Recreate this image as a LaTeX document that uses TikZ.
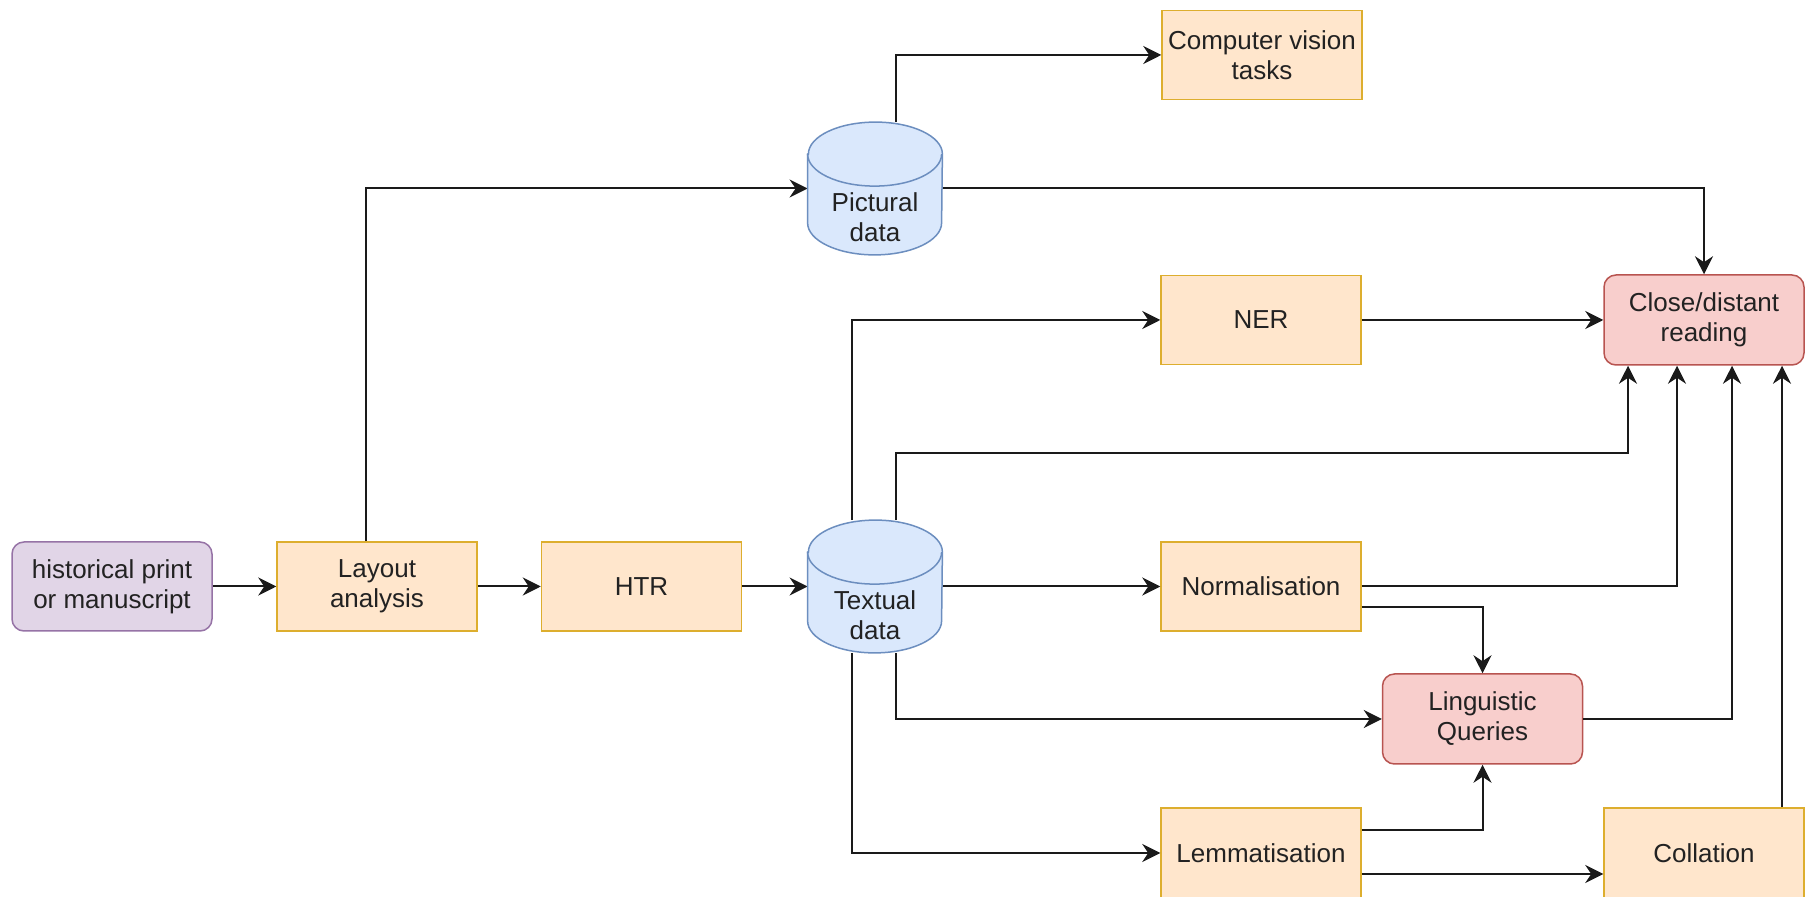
\documentclass[tikz,border=0pt]{standalone}
\usepackage{fontspec}
\setmainfont{Liberation Sans}
\usetikzlibrary{arrows.meta}
\definecolor{purF}{HTML}{E1D5E7}
\definecolor{purD}{HTML}{9673A6}
\definecolor{orF}{HTML}{FFE6CC}
\definecolor{orD}{HTML}{DDAE2E}
\definecolor{blF}{HTML}{DAE8FC}
\definecolor{blD}{HTML}{6C8EBF}
\definecolor{rdF}{HTML}{F8CECC}
\definecolor{rdD}{HTML}{B85450}
\definecolor{lnC}{HTML}{1A1A1A}
\definecolor{txC}{HTML}{222222}
\tikzset{
  base/.style={minimum width=100pt, minimum height=44.5pt, inner sep=0pt, align=center,
    line width=0.75pt, text=txC, font=\fontsize{13}{15}\selectfont},
  purbox/.style={base, draw=purD, fill=purF, rounded corners=6pt},
  orbox/.style={base, draw=orD, fill=orF},
  rdbox/.style={base, draw=rdD, fill=rdF, rounded corners=6pt},
  cylnode/.style={minimum width=67pt, minimum height=66pt, inner sep=0pt},
  cyltext/.style={align=center, inner sep=0pt, text=txC, font=\fontsize{13}{15}\selectfont},
  cylshape/.style={draw=blD, fill=blF, line width=0.75pt},
  arr/.style={draw=lnC, line width=1pt, -{Stealth[length=9pt,width=9pt,inset=3pt]}},
}
\newcommand{\drawcyl}[1]{%
  \draw[cylshape] ([yshift=-16pt]#1.north west) -- ([yshift=16pt]#1.south west)
    arc[start angle=180,end angle=360,x radius=33.5pt,y radius=16pt]
    -- ([yshift=-16pt]#1.north east)
    arc[start angle=0,end angle=180,x radius=33.5pt,y radius=16pt] -- cycle;
  \draw[cylshape, fill=none] ([yshift=-16pt]#1.north west)
    arc[start angle=180,end angle=360,x radius=33.5pt,y radius=16pt];
}
\begin{document}
\begin{tikzpicture}[x=0.5pt,y=-0.5pt]
\useasboundingbox (0,0) rectangle (1806,897);
\fill[white] (0,0) rectangle (1806,897);

% nodes
\node[purbox] (hist) at (112,586.5) {historical print\\or manuscript};
\node[orbox] (layout) at (377,586.5) {Layout\\analysis};
\node[orbox] (htr) at (641.5,586.5) {HTR};
\node[cylnode] (pict) at (875,188.5) {};
\node[cylnode] (text) at (875,586.5) {};
\node[orbox] (cv) at (1262,55) {Computer vision\\tasks};
\node[orbox] (ner) at (1261,320) {NER};
\node[orbox] (norm) at (1261,586.5) {Normalisation};
\node[orbox, minimum height=45pt] (lem) at (1261,853) {Lemmatisation};
\node[orbox, minimum height=45pt] (coll) at (1704,853) {Collation};
\node[rdbox, minimum height=45pt] (lq) at (1482.5,719) {Linguistic\\Queries};
\node[rdbox, minimum height=45pt] (close) at (1704,320) {Close/distant\\reading};

\coordinate (c1) at (1628,453);

% connectors
\draw[arr] (hist.east) -- (layout.west);
\draw[arr] (layout.east) -- (htr.west);
\draw[arr] (htr.east) -- (text.west);
\draw[arr] ([xshift=-5.5pt]layout.north) |- (pict.west);
\draw[arr] ([xshift=10.5pt]pict.north) |- (cv.west);
\draw[arr] (pict.east) -| (close.north);
\draw[arr] ([xshift=-11.5pt]text.north) |- (ner.west);
\draw[arr] ([xshift=10.5pt]text.north) |- (c1) -- (c1 |- close.south);
\draw[arr] (ner.east) -- (close.west);
\draw[arr] (text.east) -- (norm.west);
\draw[arr] (norm.east) -| ([xshift=-13.5pt]close.south);
\draw[arr] ([yshift=-10.5pt]norm.east) -| (lq.north);
\draw[arr] ([xshift=10.5pt]text.south) |- (lq.west);
\draw[arr] ([xshift=-11.5pt]text.south) |- (lem.west);
\draw[arr] ([yshift=11.5pt]lem.east) -| (lq.south);
\draw[arr] ([yshift=-10.5pt]lem.east) -- ([yshift=-10.5pt]coll.west);
\draw[arr] (lq.east) -| ([xshift=14pt]close.south);
\draw[arr] ([xshift=39pt]coll.north) -- ([xshift=39pt]close.south);

% cylinders on top
\drawcyl{pict}
\drawcyl{text}
\node[cyltext] (pictlbl) at (875,217) {Pictural\\data};
\node[cyltext] (textlbl) at (875,615) {Textual\\data};
\end{tikzpicture}
\end{document}
